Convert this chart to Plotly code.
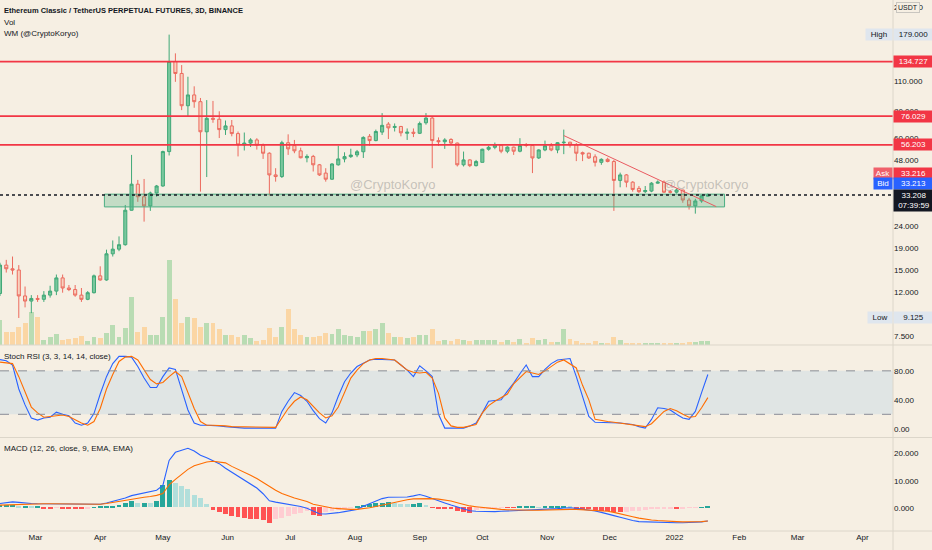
import numpy as np
import pandas as pd
import plotly.graph_objects as go

# ---------------- data (ETC/USDT perp, 3D candles) ----------------
first_candle = "2021-02-12"
n_candles = 114

opens = [11.8, 15.9, 15.3, 15.1, 11.5, 10.9, 11.2, 11.1, 11.6, 12.1,
         13.9, 12.5, 12.3, 11.6, 11.1, 11.9, 14.2, 13.6, 17.9, 18.8,
         19.7, 28.3, 37.2, 32.6, 29.6, 33.9, 36.5, 52.4, 135, 119,
         84.8, 95, 88.5, 64.5, 74.3, 73.6, 66, 68.6, 63.3, 56.2,
         57.3, 59.2, 56, 51.5, 41, 40.3, 57.5, 55.8, 52.8, 49.1,
         49.8, 45.6, 41.8, 39.2, 45.6, 48.5, 49.7, 50.6, 52.3, 61.5,
         58.8, 64.3, 69.9, 67.5, 68.2, 63.5, 64.2, 63.5, 70.9, 74.5,
         58.8, 58.1, 59.5, 57.3, 45.6, 48, 45.2, 46.8, 53.7, 54.8,
         56, 52.6, 54.9, 52.6, 56.2, 55.9, 49, 53.3, 55.7, 53.3,
         57.5, 57.8, 56.2, 51.8, 51.5, 49.6, 46.8, 48.3, 47.2, 38.7,
         41, 38, 35.6, 34.4, 34.6, 37.6, 38, 34.4, 34.2, 35,
         31.5, 29.6, 31.2, 32.8]
highs = [16.3, 16.8, 17.4, 15.9, 12.7, 11.6, 11.6, 12.1, 12.8, 14.4,
         14.4, 12.9, 12.9, 12.5, 12.1, 14.4, 15.7, 18.7, 20.6, 21.5,
         29.9, 50.6, 38.9, 39.3, 34.4, 36.9, 52.9, 179, 147, 130,
         115, 104, 92, 90, 89.2, 80, 72.6, 73, 64.7, 64,
         60.3, 60.3, 57, 52, 44, 58.7, 62.8, 59.2, 54.6, 50.9,
         50.6, 46, 44, 46.4, 55.7, 52, 54, 53.3, 61.5, 63,
         66, 78.5, 71.4, 70.4, 68.6, 66.8, 66.8, 71.8, 78.5, 75.3,
         60.8, 60.3, 60.3, 57.6, 52.4, 48.3, 48, 54, 55.7, 57.6,
         56.2, 55.4, 55.2, 60.3, 57.3, 56.6, 53.7, 58.8, 57.3, 57.9,
         66, 58.1, 57.3, 52.4, 51.8, 50.9, 48.8, 49.1, 48, 42,
         41.4, 38.4, 36.5, 36.5, 38, 38.7, 38.7, 35, 35.6, 35,
         32.2, 31.9, 33.2, 33.7]
lows = [11.5, 14.7, 14.4, 9.125, 10.2, 9.6, 10.8, 10.8, 11.3, 11.6,
        11.9, 12.1, 11.4, 10.8, 11.0, 11.8, 13.5, 13.5, 17.4, 18.4,
        19.5, 28.2, 30.9, 25.1, 28.1, 32.6, 36.2, 50.3, 109, 81,
        75.9, 83, 34.4, 40.1, 70.9, 60.4, 62.4, 61.5, 49.8, 53,
        55, 53.5, 48.5, 33, 38.2, 39.7, 50.6, 51.5, 48.8, 46.8,
        42.5, 40.6, 38.2, 38.9, 45.2, 46.8, 49, 49.4, 49, 55.7,
        58.4, 62.4, 59.8, 64.7, 61.5, 59.2, 61, 63, 69.5, 44,
        55.7, 53.9, 56.2, 44.8, 44.8, 44.5, 44.8, 46.8, 52.9, 53.7,
        51.5, 51.5, 50.6, 52, 54.8, 41.8, 48.5, 52.6, 52.6, 51.5,
        51, 54.6, 47.4, 47.4, 48.5, 44.8, 45.6, 46.8, 28.1, 36,
        36, 34.4, 33.9, 33.9, 34.2, 37.4, 33.9, 33.7, 33.7, 30.6,
        28.5, 27.3, 30.6, 32.7]
closes = [15.9, 15.3, 15.1, 11.5, 10.9, 11.2, 11.1, 11.6, 12.1, 13.9,
          12.5, 12.3, 11.6, 11.1, 11.9, 14.2, 13.6, 17.9, 18.8, 19.7,
          28.3, 37.2, 32.6, 29.6, 33.9, 36.5, 52.4, 135, 119, 84.8,
          95, 88.5, 64.5, 74.3, 73.6, 66, 68.6, 63.3, 56.2, 57.3,
          59.2, 56, 51.5, 41, 40.3, 57.5, 53.9, 52.8, 49.1, 49.8,
          45.6, 41, 39.2, 46, 48.5, 49.7, 50.5, 52.3, 60.8, 58.8,
          64.7, 69, 67.2, 68.2, 63.8, 64.2, 63.5, 70.4, 74.5, 58.8,
          58.1, 59.2, 57.3, 45.6, 48, 45.2, 47.2, 53.7, 54.8, 56.2,
          52.6, 54.9, 52.6, 55.9, 55.9, 49, 53.3, 55.7, 53.3, 57.5,
          57.8, 56.2, 51.5, 51.1, 49, 46.8, 48.3, 47.2, 38.7, 41,
          38, 35.2, 34.4, 34.8, 37.6, 38, 34.2, 34.2, 35, 31.5,
          29.6, 31.2, 32.9, 33.2]
volume = [25, 13, 13, 18, 22, 33, 28, 5, 8, 11,
          5, 6, 7, 9, 4, 8, 7, 12, 20, 8,
          17, 48, 13, 18, 10, 10, 28, 85, 46, 22,
          28, 27, 18, 22, 22, 16, 10, 10, 8, 10,
          7, 4, 5, 17, 8, 18, 36, 16, 10, 8,
          8, 9, 12, 11, 16, 10, 9, 8, 14, 14,
          16, 22, 12, 8, 8, 7, 8, 10, 10, 16,
          4, 5, 4, 6, 5, 4, 5, 5, 5, 5,
          3, 5, 3, 6, 2, 7, 5, 6, 3, 3,
          16, 6, 4, 2, 2, 4, 2, 2, 8, 5,
          2, 2, 2, 2, 2, 2, 2, 2, 1, 2,
          3, 3, 4, 4]

stoch_k = [95.5, 94, 88, 55, 33, 15, 12, 15, 16, 23,
           20, 18, 8, 5, 8, 21, 48, 72, 90, 100,
           100, 99, 86, 70, 57, 57, 72, 84, 82, 55,
           26, 8, 5, 5, 5, 4, 3, 2, 1, 1,
           1, 1, 1, 1, 1, 24, 38, 50, 46, 38,
           25, 14, 8, 22, 45, 65, 77, 86, 91, 95,
           96, 96, 95, 95, 88, 81, 72, 87, 80, 72,
           20, 1, 1, 1, 1, 4, 8, 22, 38, 39,
           40, 52, 63, 76, 88, 72, 72, 82, 90, 95,
           96, 97, 72, 45, 17, 9, 9, 9, 8, 8,
           7, 6, 3, 1, 13, 29, 28, 26, 20, 15,
           13, 24, 50, 75]
stoch_d = [92, 91, 90, 72, 50, 30, 22, 16, 17, 18,
           19, 17, 12, 8, 5, 10, 28, 55, 75, 93,
           99, 100, 95, 81, 68, 62, 64, 72, 79, 72,
           50, 28, 10, 5, 5, 5, 4, 3, 3, 2,
           2, 2, 2, 2, 2, 15, 28, 38, 44, 40,
           31, 22, 15, 18, 30, 49, 70, 81, 90, 95,
           97, 97, 96, 95, 88, 81, 78, 77, 78, 70,
           49, 15, 4, 2, 2, 4, 6, 22, 32, 38,
           43, 48, 62, 70, 79, 77, 75, 80, 86, 92,
           95, 90, 84, 60, 40, 13, 11, 10, 9, 8,
           7, 6, 4, 3, 7, 15, 24, 28, 25, 20,
           16, 17, 29, 43]

macd_line = [1.6, 1.9, 2.2, 2.0, 1.7, 1.6, 1.5, 1.5, 1.5, 1.4,
             1.3, 1.3, 1.3, 1.3, 1.3, 1.3, 1.3, 1.8, 2.4, 3.0,
             3.6, 4.5, 5.0, 5.4, 5.8, 6.5, 8.3, 17.5, 20.5, 21.2,
             22.0, 21.0, 19.4, 18.5, 17.5, 16.3, 14.6, 13.2, 11.7, 10.3,
             8.8, 7.3, 5.2, 2.6, 2.1, 1.7, 1.5, 1.0, 0.5, -0.2,
             -1.2, -2.2, -2.3, -2.1, -1.8, -1.4, -1.0, -0.6, 0.6, 1.6,
             2.6, 3.4, 3.9, 4.0, 4.0, 4.0, 4.4, 4.9, 4.3, 3.4,
             2.6, 1.8, 1.0, 0.3, -0.4, -1.1, -1.3, -1.4, -1.5, -1.4,
             -1.3, -1.2, -1.2, -1.1, -0.9, -0.9, -0.7, -0.6, -0.5, -0.3,
             -0.1, 0.0, -0.2, -0.5, -0.9, -1.2, -1.7, -2.2, -2.9, -3.5,
             -4.2, -4.7, -5.1, -5.2, -5.2, -5.3, -5.3, -5.4, -5.5, -5.5,
             -5.4, -5.4, -5.2, -4.9]
macd_signal = [1.0, 1.1, 1.2, 1.3, 1.4, 1.5, 1.5, 1.5, 1.5, 1.5,
               1.4, 1.4, 1.4, 1.4, 1.3, 1.3, 1.3, 1.6, 2.0, 2.5,
               2.9, 3.3, 3.6, 3.9, 4.2, 4.6, 5.3, 8.5, 10.5, 12.5,
               14.2, 15.5, 16.3, 16.9, 17.2, 17.0, 16.6, 15.3, 14.3, 13.2,
               12.0, 10.8, 9.3, 7.7, 6.5, 5.3, 4.4, 3.6, 3.0, 2.3,
               1.3, 0.8, 0.3, -0.1, -0.3, -0.5, -0.6, -0.6, -0.4, 0.0,
               0.5, 1.0, 1.6, 2.1, 2.6, 3.0, 3.3, 3.4, 3.4, 3.4,
               3.2, 2.9, 2.5, 1.9, 1.3, 0.7, 0.4, 0.1, -0.2, -0.5,
               -0.6, -0.7, -0.8, -0.8, -0.9, -0.9, -0.9, -0.8, -0.7, -0.7,
               -0.6, -0.6, -0.6, -0.7, -0.8, -0.9, -1.1, -1.3, -1.7, -2.3,
               -2.8, -3.3, -3.8, -4.2, -4.5, -4.7, -4.9, -5.0, -5.1, -5.2,
               -5.2, -5.2, -5.1, -4.9]
macd_hist = [0.9, 1.0, 1.0, 0.4, 0.4, 0.3, 0.3, -0.3, -0.3, -0.2,
             -0.3, -0.3, -0.4, -0.4, -0.3, 0.1, 0.3, 0.4, 0.6, 1.0,
             1.7, 2.2, 1.7, 1.7, 1.6, 2.5, 8.2, 10.0, 8.8, 8.0,
             6.6, 4.7, 3.4, 1.2, -1.0, -1.6, -2.5, -3.3, -3.6, -4.0,
             -4.2, -4.4, -4.7, -5.9, -4.3, -3.8, -3.2, -2.5, -2.0, -1.5,
             -2.8, -3.1, -1.8, -1.3, -1.0, -0.5, -0.2, 0.3, 1.0, 1.3,
             1.6, 1.6, 1.8, 1.5, 1.3, 1.2, 1.2, 1.5, 1.0, -0.2,
             -0.4, -0.5, -0.6, -1.2, -1.8, -2.2, -1.0, -0.6, -0.3, -0.2,
             -0.1, -0.1, -0.1, 0.2, 0.3, 0.3, 0.1, 0.2, 0.4, 0.5,
             0.5, 0.3, -0.3, -0.5, -0.8, -1.1, -1.3, -1.5, -1.6, -1.8,
             -1.7, -1.5, -1.2, -1.0, -0.8, -0.6, -0.4, -0.3, -0.5, -0.4,
             -0.2, -0.1, 0.1, 0.3]

# drawn levels / zone / trendline
levels = [134.727, 76.029, 56.203]
zone_dates = ["2021-04-03", "2022-01-25"]
zone_prices = [29.3, 33.5]
trend_dates = ["2021-11-09", "2022-01-21"]
trend_prices = [62.0, 29.4]
last_price = 33.208
ask_price = 33.216
bid_price = 33.213
high_price = 179.0
low_price = 9.125
watermark_dates = ["2021-08-19", "2022-01-16"]
watermark_price = 37.2

month_ticks = ["2021-03-01", "2021-04-01", "2021-05-01", "2021-06-01", "2021-07-01",
               "2021-08-01", "2021-09-01", "2021-10-01", "2021-11-01", "2021-12-01",
               "2022-01-01", "2022-02-01", "2022-03-01", "2022-04-01"]
month_labels = ["Mar", "Apr", "May", "Jun", "Jul", "Aug", "Sep", "Oct", "Nov", "Dec",
                "2022", "Feb", "Mar", "Apr"]
price_ticks = [7.5, 9.5, 12, 15, 19, 24, 48, 60, 80, 110, 140, 240]
stoch_ticks = [0, 40, 80]
macd_ticks = [0, 10, 20]

# ---------------- styling ----------------
BG = "#f6efe3"
TXT = "#131722"
FONT = "Liberation Sans, Arial"
FS = 8
RED = "#f23645"
UP_LINE, UP_FILL = "#3fa877", "#79c79d"
DN_LINE, DN_FILL = "#ec6a5e", "#f8d2bf"

dates = pd.date_range(first_candle, periods=n_candles, freq="3D")
up = [c >= o for o, c in zip(opens, closes)]
vol_colors = ["#b9dcb3" if u else "#fbd6a4" for u in up]

hist_colors = []
for i, h in enumerate(macd_hist):
    prev = macd_hist[i - 1] if i > 0 else h
    if h >= 0:
        hist_colors.append("#26a69a" if h >= prev else "#b2dfdb")
    else:
        hist_colors.append("#ff5252" if h <= prev else "#ffcdd2")

bar_w = 3 * 86400000 * 0.78

fig = go.Figure()

# volume (base axis of top pane)
fig.add_trace(go.Bar(x=dates, y=volume, marker_color=vol_colors, marker_line_width=0,
                     width=bar_w, xaxis="x", yaxis="y", hoverinfo="skip"))

# green support zone + trendline
fig.add_trace(go.Scatter(
    x=[zone_dates[0], zone_dates[1], zone_dates[1], zone_dates[0], zone_dates[0]],
    y=[zone_prices[0], zone_prices[0], zone_prices[1], zone_prices[1], zone_prices[0]],
    fill="toself", fillcolor="rgba(76,175,130,0.30)", mode="lines",
    line=dict(color="#4caf84", width=1), xaxis="x", yaxis="y2", hoverinfo="skip"))

fig.add_trace(go.Candlestick(
    x=dates, open=opens, high=highs, low=lows, close=closes,
    increasing=dict(line=dict(color=UP_LINE, width=1), fillcolor=UP_FILL),
    decreasing=dict(line=dict(color=DN_LINE, width=1), fillcolor=DN_FILL),
    whiskerwidth=0, xaxis="x", yaxis="y2", hoverinfo="skip"))

fig.add_trace(go.Scatter(x=trend_dates, y=trend_prices, mode="lines",
                         line=dict(color="#ea5a60", width=1), xaxis="x", yaxis="y2",
                         hoverinfo="skip"))

# stoch rsi
fig.add_trace(go.Scatter(x=dates, y=stoch_k, mode="lines", line=dict(color="#2962ff", width=1.1),
                         xaxis="x2", yaxis="y3", hoverinfo="skip"))
fig.add_trace(go.Scatter(x=dates, y=stoch_d, mode="lines", line=dict(color="#ff6d00", width=1.1),
                         xaxis="x2", yaxis="y3", hoverinfo="skip"))

# macd
fig.add_trace(go.Bar(x=dates, y=macd_hist, marker_color=hist_colors, marker_line_width=0,
                     width=bar_w, xaxis="x3", yaxis="y4", hoverinfo="skip"))
fig.add_trace(go.Scatter(x=dates, y=macd_line, mode="lines", line=dict(color="#2962ff", width=1.1),
                         xaxis="x3", yaxis="y4", hoverinfo="skip"))
fig.add_trace(go.Scatter(x=dates, y=macd_signal, mode="lines", line=dict(color="#ff6d00", width=1.1),
                         xaxis="x3", yaxis="y4", hoverinfo="skip"))

x_range = ["2021-02-12", "2022-04-15 16:00"]
tickfont = dict(family=FONT, size=FS, color=TXT)

shapes = []
for lv in levels:
    shapes.append(dict(type="line", xref="paper", x0=0, x1=1, yref="y2", y0=lv, y1=lv,
                       line=dict(color=RED, width=1.6)))
shapes.append(dict(type="line", xref="paper", x0=0, x1=1, yref="y2", y0=last_price, y1=last_price,
                   line=dict(color="#131722", width=1.5, dash="dot")))
shapes.append(dict(type="rect", xref="paper", x0=0, x1=1, yref="y3", y0=20, y1=80,
                   fillcolor="rgba(33,150,243,0.10)", line_width=0, layer="below"))
for lv in (20, 80):
    shapes.append(dict(type="line", xref="paper", x0=0, x1=1, yref="y3", y0=lv, y1=lv,
                       line=dict(color="#8a8d96", width=1, dash="dash")))
# pane separators and right scale border
for yp in (0.3503, 0.1761, 0.0):
    shapes.append(dict(type="line", xref="paper", x0=0, x1=1.05, yref="paper", y0=yp, y1=yp,
                       line=dict(color="#dcd6ca", width=1)))
shapes.append(dict(type="line", xref="paper", x0=1, x1=1, yref="paper", y0=-0.05, y1=1,
                   line=dict(color="#dcd6ca", width=1)))

ann = []


def tag(value, text, bg, fg="white", yshift=0, side="right", width=37):
    ann.append(dict(xref="paper", x=1, xanchor="left" if side == "right" else "right",
                    yref="y2", y=np.log10(value), yshift=yshift, text=text, showarrow=False,
                    bgcolor=bg, font=dict(family=FONT, size=FS, color=fg), width=width,
                    borderpad=1, align="center"))


tag(high_price, "179.000", "#dfe6ee", fg=TXT)
tag(high_price, "High", "#dfe6ee", fg=TXT, side="left", width=24)
for lv in levels:
    tag(lv, f"{lv:.3f}", RED)
tag(ask_price, f"{ask_price:.3f}", RED, yshift=21)
tag(ask_price, "Ask", "#f0616b", side="left", width=16, yshift=21)
tag(bid_price, f"{bid_price:.3f}", "#2962ff", yshift=11)
tag(bid_price, "Bid", "#2962ff", side="left", width=16, yshift=11)
tag(last_price, f"{last_price:.3f}<br>07:39:59", "#131722", yshift=-6, width=38)
tag(low_price, f"{low_price:.3f}", "#dfe6ee", fg=TXT)
tag(low_price, "Low", "#dfe6ee", fg=TXT, side="left", width=22)

ann.append(dict(xref="paper", x=1, xanchor="left", xshift=3, yref="paper", y=1, yanchor="top",
                yshift=-2, text="USDT", showarrow=False, bgcolor=BG, bordercolor="#c9c6c0",
                borderwidth=1, borderpad=1, font=dict(family=FONT, size=7, color=TXT)))

header = ["<b>Ethereum Classic / TetherUS PERPETUAL FUTURES, 3D, BINANCE</b>", "Vol",
          "WM (@CryptoKoryo)"]
for i, t in enumerate(header):
    ann.append(dict(xref="paper", x=0, xanchor="left", xshift=2, yref="paper", y=1,
                    yanchor="top", yshift=-4 - 11.5 * i, text=t, showarrow=False,
                    font=dict(family=FONT, size=7.5 if i == 0 else FS, color=TXT)))
ann.append(dict(xref="paper", x=0, xanchor="left", xshift=2, yref="y3 domain", y=1, yanchor="top",
                yshift=-4, text="Stoch RSI (3, 3, 14, 14, close)", showarrow=False,
                font=dict(family=FONT, size=FS, color=TXT)))
ann.append(dict(xref="paper", x=0, xanchor="left", xshift=2, yref="y4 domain", y=1, yanchor="top",
                yshift=-4, text="MACD (12, 26, close, 9, EMA, EMA)", showarrow=False,
                font=dict(family=FONT, size=FS, color=TXT)))
for xd in watermark_dates:
    ann.append(dict(xref="x", x=xd, yref="y2", y=np.log10(watermark_price), text="@CryptoKoryo",
                    showarrow=False, font=dict(family=FONT, size=13, color="rgba(120,120,120,0.4)")))

fig.update_layout(
    width=932, height=550, margin=dict(l=0, r=39, t=0, b=19),
    paper_bgcolor=BG, plot_bgcolor=BG, showlegend=False, bargap=0,
    font=dict(family=FONT, color=TXT),
    xaxis=dict(domain=[0, 1], anchor="y", range=x_range, showticklabels=False, showgrid=False,
               zeroline=False, rangeslider=dict(visible=False)),
    xaxis2=dict(domain=[0, 1], anchor="y3", matches="x", showticklabels=False, showgrid=False,
                zeroline=False),
    xaxis3=dict(domain=[0, 1], anchor="y4", matches="x", tickvals=month_ticks, ticktext=month_labels,
                tickfont=tickfont, showgrid=False, zeroline=False, ticks=""),
    yaxis=dict(domain=[0.3503, 1], range=[0, max(volume) * 4.06], visible=False, fixedrange=True),
    yaxis2=dict(overlaying="y", anchor="x", side="right", type="log",
                range=[np.log10(6.87), np.log10(257.5)], tickvals=price_ticks,
                ticktext=[f"{v:.3f}" for v in price_ticks], tickfont=tickfont,
                showgrid=False, zeroline=False, ticks=""),
    yaxis3=dict(domain=[0.1780, 0.3484], anchor="x2", side="right", range=[-10.6, 114.3],
                tickvals=stoch_ticks, ticktext=[f"{v:.2f}" for v in stoch_ticks], tickfont=tickfont,
                showgrid=False, zeroline=False, ticks=""),
    yaxis4=dict(domain=[0, 0.1742], anchor="x3", side="right", range=[-8.57, 25.6],
                tickvals=macd_ticks, ticktext=[f"{v:.3f}" for v in macd_ticks], tickfont=tickfont,
                showgrid=False, zeroline=False, ticks=""),
    shapes=shapes, annotations=ann,
)

fig.write_html("out.html", config={"displayModeBar": False},
               post_script="document.body.style.margin='0px';")
